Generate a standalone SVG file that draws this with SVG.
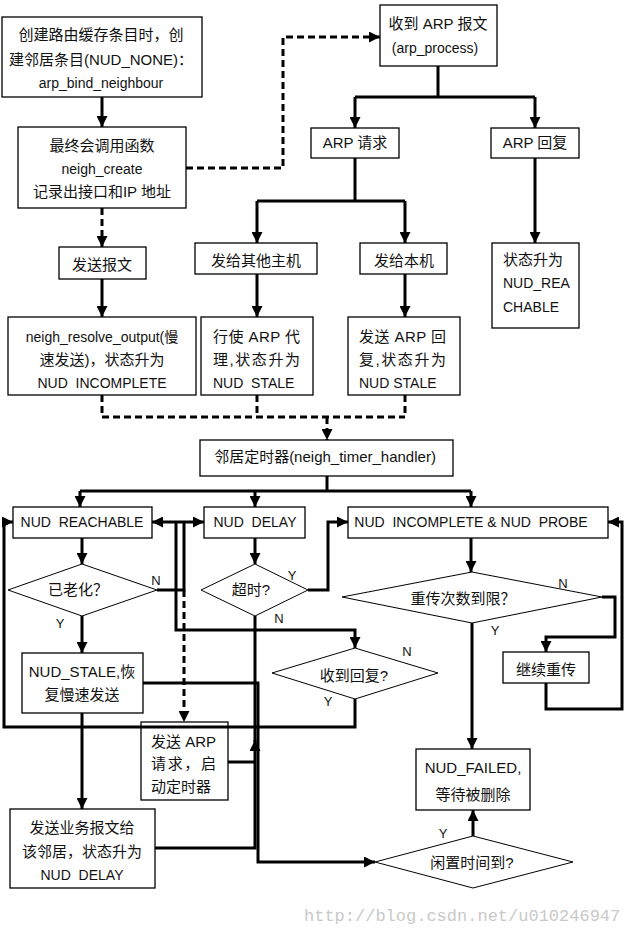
<svg xmlns="http://www.w3.org/2000/svg" width="626" height="944" viewBox="0 0 626 944">
<style>
.box{fill:#fff;stroke:#000;stroke-width:1.3}
.dia{fill:#fff;stroke:#000;stroke-width:1}
.t{font-family:"Liberation Sans","Noto Sans CJK SC",sans-serif;font-size:15px;fill:#111;white-space:pre}
.lat{font-size:14px}
.c{text-anchor:middle}
.lbl{font-family:"Liberation Sans",sans-serif;font-size:13px;fill:#111;text-anchor:middle}
.ln{fill:none;stroke:#000;stroke-width:3}
.dl{fill:none;stroke:#000;stroke-width:3;stroke-dasharray:7,4}
.wm{font-family:"Liberation Mono",monospace;font-size:17px;fill:#c9c9c9}
</style>
<defs>
<marker id="ah" viewBox="0 0 10 10" refX="10" refY="5" markerWidth="11" markerHeight="11" markerUnits="userSpaceOnUse" orient="auto-start-reverse"><path d="M0,0 L10,5 L0,10 z" fill="#000"/></marker>
</defs>

<g id="n-create-entry"><rect class="box" x="2" y="17" width="200" height="80"/>
<text class="t c" x="101" y="40">创建路由缓存条目时，创</text>
<text class="t c" x="101" y="65">建邻居条目(NUD_NONE)：</text>
<text class="t lat c" x="101" y="88">arp_bind_neighbour</text></g>

<g id="n-neigh-create"><rect class="box" x="18" y="127" width="168" height="81"/>
<text class="t c" x="102" y="151">最终会调用函数</text>
<text class="t lat c" x="102" y="174">neigh_create</text>
<text class="t c" x="102" y="197">记录出接口和IP 地址</text></g>

<g id="n-arp-process"><rect class="box" x="380" y="5" width="117" height="61"/>
<text class="t c" x="438" y="29">收到 ARP 报文</text>
<text class="t lat c" x="435" y="53">(arp_process)</text></g>

<g id="n-arp-req"><rect class="box" x="311" y="128" width="88" height="30"/>
<text class="t c" x="355" y="148">ARP 请求</text></g>

<g id="n-arp-reply"><rect class="box" x="491" y="128" width="88" height="30"/>
<text class="t c" x="535" y="148">ARP 回复</text></g>

<g id="n-send-pkt"><rect class="box" x="59" y="247" width="87" height="32"/>
<text class="t c" x="102" y="270">发送报文</text></g>

<g id="n-to-other"><rect class="box" x="195" y="243" width="122" height="31"/>
<text class="t c" x="256" y="266">发给其他主机</text></g>

<g id="n-to-local"><rect class="box" x="360" y="243" width="87" height="31"/>
<text class="t c" x="404" y="266">发给本机</text></g>

<g id="n-reachable-up"><rect class="box" x="492" y="243" width="87" height="85"/>
<text class="t" x="503" y="265">状态升为</text>
<text class="t lat" x="503" y="288">NUD_REA</text>
<text class="t lat" x="503" y="312">CHABLE</text></g>

<g id="n-resolve-output"><rect class="box" x="8" y="317" width="188" height="78"/>
<text class="t lat c" x="102" y="342">neigh_resolve_output(慢</text>
<text class="t c" x="102" y="365">速发送)，状态升为</text>
<text class="t lat c" x="102" y="388">NUD  INCOMPLETE</text></g>

<g id="n-arp-proxy"><rect class="box" x="201" y="317" width="112" height="78"/>
<text class="t" x="213" y="342" textLength="87" lengthAdjust="spacing">行使 ARP 代</text>
<text class="t" x="213" y="365" textLength="87" lengthAdjust="spacing">理,状态升为</text>
<text class="t lat" x="213" y="388">NUD  STALE</text></g>

<g id="n-arp-answer"><rect class="box" x="348" y="317" width="112" height="78"/>
<text class="t" x="359" y="342" textLength="87" lengthAdjust="spacing">发送 ARP 回</text>
<text class="t" x="359" y="365" textLength="87" lengthAdjust="spacing">复,状态升为</text>
<text class="t lat" x="359" y="388">NUD STALE</text></g>

<g id="n-timer"><rect class="box" x="200" y="440" width="253" height="36"/>
<text class="t c" x="325" y="462">邻居定时器(neigh_timer_handler)</text></g>

<g id="n-reachable"><rect class="box" x="13" y="507" width="139" height="31"/>
<text class="t lat c" x="82" y="527">NUD  REACHABLE</text></g>

<g id="n-delay"><rect class="box" x="204" y="507" width="101" height="31"/>
<text class="t lat c" x="255" y="527">NUD  DELAY</text></g>

<g id="n-incomplete-probe"><rect class="box" x="348" y="507" width="260" height="31"/>
<text class="t lat c" x="471" y="527">NUD  INCOMPLETE &amp; NUD  PROBE</text></g>

<g id="n-aged"><polygon class="dia" points="82,564 157,590 82,616 8,590"/>
<text class="t c" x="78" y="595">已老化？</text></g>

<g id="n-timeout"><polygon class="dia" points="255,564 308,590 255,616 201,590"/>
<text class="t c" x="251" y="595">超时?</text></g>

<g id="n-retry-limit"><polygon class="dia" points="472,572 602,597 472,623 342,597"/>
<text class="t c" x="463" y="604">重传次数到限？</text></g>

<g id="n-got-reply"><polygon class="dia" points="355,648 438,673 355,699 272,673"/>
<text class="t c" x="354" y="681">收到回复?</text></g>

<g id="n-stale"><rect class="box" x="22" y="653" width="121" height="60"/>
<text class="t c" x="82" y="677">NUD_STALE,恢</text>
<text class="t c" x="82" y="700">复慢速发送</text></g>

<g id="n-send-arp-req"><rect class="box" x="141" y="722" width="87" height="78"/>
<text class="t" x="151" y="747" textLength="65" lengthAdjust="spacing">发送 ARP</text>
<text class="t" x="151" y="769" textLength="65" lengthAdjust="spacing">请求，启</text>
<text class="t" x="151" y="792">动定时器</text></g>

<g id="n-retransmit"><rect class="box" x="503" y="652" width="86" height="31"/>
<text class="t c" x="546" y="675">继续重传</text></g>

<g id="n-failed"><rect class="box" x="416" y="749" width="114" height="61"/>
<text class="t c" x="473" y="773">NUD_FAILED,</text>
<text class="t c" x="473" y="800">等待被删除</text></g>

<g id="n-send-business"><rect class="box" x="10" y="809" width="145" height="79"/>
<text class="t c" x="82" y="833">发送业务报文给</text>
<text class="t c" x="82" y="857">该邻居，状态升为</text>
<text class="t lat c" x="82" y="880">NUD  DELAY</text></g>

<g id="n-idle"><polygon class="dia" points="473,836 573,862 473,888 375,862"/>
<text class="t c" x="472" y="868">闲置时间到?</text></g>

<g id="connectors">
<path class="ln" d="M102 97 V127" marker-end="url(#ah)"/>
<path class="dl" d="M186 168 H283 V37 H380" marker-end="url(#ah)"/>
<path class="dl" d="M102 208 V247" marker-end="url(#ah)"/>
<path class="ln" d="M438 66 V97 M355 97 H535"/>
<path class="ln" d="M355 97 V128" marker-end="url(#ah)"/>
<path class="ln" d="M535 97 V128" marker-end="url(#ah)"/>
<path class="ln" d="M355 158 V201 M257 201 H405"/>
<path class="ln" d="M257 201 V243" marker-end="url(#ah)"/>
<path class="ln" d="M405 201 V243" marker-end="url(#ah)"/>
<path class="ln" d="M535 158 V243" marker-end="url(#ah)"/>
<path class="ln" d="M102 279 V317" marker-end="url(#ah)"/>
<path class="ln" d="M257 274 V317" marker-end="url(#ah)"/>
<path class="ln" d="M405 274 V317" marker-end="url(#ah)"/>
<path class="dl" d="M102 395 V417 M257 395 V417 M405 395 V417 M102 417 H405"/>
<path class="dl" d="M327 417 V440" marker-end="url(#ah)"/>
<path class="ln" d="M327 476 V491 M80 491 H471"/>
<path class="ln" d="M80 491 V507" marker-end="url(#ah)"/>
<path class="ln" d="M255 491 V507" marker-end="url(#ah)"/>
<path class="ln" d="M471 491 V507" marker-end="url(#ah)"/>
<path class="ln" d="M82 538 V564" marker-end="url(#ah)"/>
<path class="ln" d="M157 590 H184 V522"/>
<path class="ln" d="M152 522 H204" marker-start="url(#ah)" marker-end="url(#ah)"/>
<path class="ln" d="M176 522 V630 H355 V648" marker-end="url(#ah)"/>
<path class="dl" d="M184 590 V722" marker-end="url(#ah)"/>
<path class="ln" d="M82 616 V653" marker-end="url(#ah)"/>
<path class="ln" d="M255 538 V564" marker-end="url(#ah)"/>
<path class="ln" d="M308 590 H328 V522 H348" marker-end="url(#ah)"/>
<path class="ln" d="M255 616 V742"/>
<path class="ln" d="M155 848 H255 V740" marker-end="url(#ah)"/>
<path class="ln" d="M228 762 H255"/>
<path class="ln" d="M143 683 H258 V862 H375" marker-end="url(#ah)"/>
<path class="ln" d="M355 699 V727 H4 V522 H13" marker-end="url(#ah)"/>
<path class="ln" d="M82 713 V809" marker-end="url(#ah)"/>
<path class="ln" d="M471 538 V572" marker-end="url(#ah)"/>
<path class="ln" d="M602 597 H615 V637 H546 V652" marker-end="url(#ah)"/>
<path class="ln" d="M546 683 V709 H622 V522 H608" marker-end="url(#ah)"/>
<path class="ln" d="M472 623 V749" marker-end="url(#ah)"/>
<path class="ln" d="M473 836 V810" marker-end="url(#ah)"/>
</g>

<g id="labels">
<text class="lbl" x="156" y="585">N</text>
<text class="lbl" x="60" y="628">Y</text>
<text class="lbl" x="292" y="580">Y</text>
<text class="lbl" x="279" y="623">N</text>
<text class="lbl" x="407" y="656">N</text>
<text class="lbl" x="328" y="706">Y</text>
<text class="lbl" x="563" y="588">N</text>
<text class="lbl" x="495" y="635">Y</text>
<text class="lbl" x="443" y="838">Y</text>
</g>

<text class="wm" x="304" y="921">http://blog.csdn.net/u010246947</text>
</svg>
